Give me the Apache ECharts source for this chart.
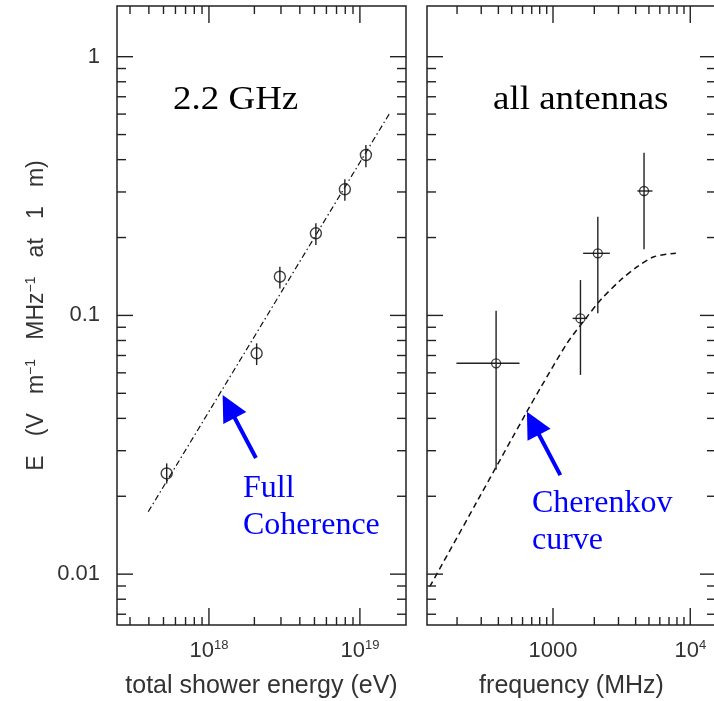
<!DOCTYPE html>
<html><head><meta charset="utf-8">
<script src="https://cdn.jsdelivr.net/npm/echarts@6/dist/echarts.min.js"></script>
<style>html,body{margin:0;padding:0;background:#fff}#c{width:714px;height:701px}</style>
</head><body><div id="c"></div>
<script>
// ---- Left panel: 2.2 GHz, field vs total shower energy ----
const energyEV   = [5.25e17, 2.07e18, 2.95e18, 5.11e18, 7.95e18, 1.096e19];
const fieldE     = [0.0245, 0.0714, 0.1411, 0.2077, 0.3073, 0.4169];
const fieldELow  = [0.0224, 0.0643, 0.1272, 0.1871, 0.2776, 0.3737];
const fieldEHigh = [0.0268, 0.0780, 0.1543, 0.2270, 0.3358, 0.4556];
const fitEnergy  = [3.96e17, 1.597e19];
const fitE       = [0.01742, 0.613];

// ---- Right panel: all antennas, field vs frequency ----
const freqMHz  = [385, 1585, 2121, 4605];
const freqLow  = [198, 1391, 1658, 4121];
const freqHigh = [570, 1774, 2596, 5305];
const antE     = [0.0653, 0.0974, 0.1738, 0.3026];
const antELow  = [0.0253, 0.0589, 0.1019, 0.1800];
const antEHigh = [0.1043, 0.1370, 0.2407, 0.4255];
const cherFreq = [126.4, 277.8, 645, 807, 1266, 1774, 2220, 3109, 4120, 5449, 7860];
const cherE    = [0.00894, 0.01897, 0.04244, 0.05226, 0.07801, 0.0989, 0.1147, 0.1370, 0.1543, 0.1686, 0.1738];

// ---- Annotation arrows (data coordinates: tail -> head) ----
const arrowLeftFrom  = [2.048e18, 0.02811];
const arrowLeftTo    = [1.352e18, 0.04446];
const arrowRightFrom = [1131, 0.02415];
const arrowRightTo   = [715, 0.03832];

// ---- Axis ranges and ticks ----
const energyRange = [2.46e17, 2.02e19];
const freqRange   = [120.8, 15400];
const fieldRange  = [0.00636, 1.57];
const energyMajor = [1e18, 1e19];
const energyMinor = [3e17,4e17,5e17,6e17,7e17,8e17,9e17,2e18,3e18,4e18,5e18,6e18,7e18,8e18,9e18];
const freqMajor   = [1000, 10000];
const freqMinor   = [200,300,400,500,600,700,800,900,2000,3000,4000,5000,6000,7000,8000,9000];
const fieldMajor  = [0.01, 0.1, 1];
const fieldMinor  = [0.007,0.008,0.009,0.02,0.03,0.04,0.05,0.06,0.07,0.08,0.09,0.2,0.3,0.4,0.5,0.6,0.7,0.8,0.9];

const INK = '#222';
const LABEL_FONT = 'Liberation Sans';

function tickItems(xMaj, xMin, yMaj, yMin, xRef, yRef) {
  return [].concat(
    xMaj.map(v => [v, yRef, 0]), xMin.map(v => [v, yRef, 1]),
    yMaj.map(v => [xRef, v, 2]), yMin.map(v => [xRef, v, 3]));
}
function renderTick(params, api) {
  const cs = params.coordSys;
  const kind = api.value(2);
  const p = api.coord([api.value(0), api.value(1)]);
  const style = {stroke: INK, lineWidth: 1.4};
  if (kind < 2) {
    const len = kind === 0 ? 17 : 8;
    const top = cs.y, bot = cs.y + cs.height;
    return {type: 'group', children: [
      {type: 'line', shape: {x1: p[0], y1: bot, x2: p[0], y2: bot - len}, style},
      {type: 'line', shape: {x1: p[0], y1: top, x2: p[0], y2: top + len}, style}]};
  }
  const len = kind === 2 ? 16 : 9;
  const l = cs.x, r = cs.x + cs.width;
  return {type: 'group', children: [
    {type: 'line', shape: {x1: l, y1: p[1], x2: l + len, y2: p[1]}, style},
    {type: 'line', shape: {x1: r, y1: p[1], x2: r - len, y2: p[1]}, style}]};
}
function renderErr(params, api) {
  const x = api.value(0), y = api.value(1);
  const a = api.coord([x, api.value(4)]), b = api.coord([x, api.value(5)]);
  const style = {stroke: INK, lineWidth: 1.4};
  const ch = [{type: 'line', shape: {x1: a[0], y1: a[1], x2: b[0], y2: b[1]}, style}];
  if (api.value(2) !== api.value(3)) {
    const c = api.coord([api.value(2), y]), d = api.coord([api.value(3), y]);
    ch.push({type: 'line', shape: {x1: c[0], y1: c[1], x2: d[0], y2: d[1]}, style});
  }
  return {type: 'group', children: ch};
}
function nearDecade(v) {
  const e = Math.log10(v);
  return Math.abs(e - Math.round(e)) < 0.01 ? Math.round(e) : null;
}
const richLbl = {
  b: {fontFamily: LABEL_FONT, fontSize: 22, color: '#333', lineHeight: 24},
  s: {fontFamily: LABEL_FONT, fontSize: 13, color: '#333', lineHeight: 13, verticalAlign: 'top'}
};
const zip = (a, b) => a.map((v, i) => [v, b[i]]);

const chart = echarts.init(document.getElementById('c'), null, {renderer: 'canvas'});
chart.setOption({
  animation: false,
  backgroundColor: '#fff',
  grid: [
    {left: 117, top: 6, width: 289, height: 619, show: true, borderColor: INK, borderWidth: 1.5, backgroundColor: 'transparent', outerBoundsMode: 'none', containLabel: false},
    {left: 427, top: 6, width: 289, height: 619, show: true, borderColor: INK, borderWidth: 1.5, backgroundColor: 'transparent', outerBoundsMode: 'none', containLabel: false}
  ],
  xAxis: [
    {type: 'log', logBase: 10, gridIndex: 0, min: energyRange[0], max: energyRange[1],
     axisLine: {show: false}, axisTick: {show: false}, splitLine: {show: false},
     axisLabel: {margin: 14, showMinLabel: false, showMaxLabel: false, rich: richLbl,
       formatter: v => { const e = nearDecade(v); return e === null ? '' : '{b|10}{s|' + e + '}'; }},
     name: 'total shower energy (eV)', nameLocation: 'middle', nameGap: 49,
     nameTextStyle: {fontFamily: LABEL_FONT, fontSize: 25, color: '#333'}},
    {type: 'log', logBase: 10, gridIndex: 1, min: freqRange[0], max: freqRange[1],
     axisLine: {show: false}, axisTick: {show: false}, splitLine: {show: false},
     axisLabel: {margin: 14, showMinLabel: false, showMaxLabel: false, rich: richLbl,
       formatter: v => { const e = nearDecade(v); if (e === null) return ''; return e === 3 ? '{b|1000}' : '{b|10}{s|' + e + '}'; }},
     name: 'frequency (MHz)', nameLocation: 'middle', nameGap: 49,
     nameTextStyle: {fontFamily: LABEL_FONT, fontSize: 25, color: '#333'}}
  ],
  yAxis: [
    {type: 'log', logBase: 10, gridIndex: 0, min: fieldRange[0], max: fieldRange[1],
     axisLine: {show: false}, axisTick: {show: false}, splitLine: {show: false},
     axisLabel: {margin: 17, showMinLabel: false, showMaxLabel: false, fontFamily: LABEL_FONT, fontSize: 22, color: '#333',
       formatter: v => { const e = nearDecade(v); return e === null ? '' : (e === 0 ? '1' : e === -1 ? '0.1' : '0.01'); }},
     name: '{t|E   (V   m}{s|−1}{t|   MHz}{s|−1}{t|   at   1   m)}', nameLocation: 'middle', nameGap: 67, nameRotate: 90,
     nameTextStyle: {rich: {
       t: {fontFamily: LABEL_FONT, fontSize: 23, color: '#333', lineHeight: 26},
       s: {fontFamily: LABEL_FONT, fontSize: 14, color: '#333', lineHeight: 14, verticalAlign: 'top'}}}},
    {type: 'log', logBase: 10, gridIndex: 1, min: fieldRange[0], max: fieldRange[1],
     axisLine: {show: false}, axisTick: {show: false}, splitLine: {show: false}, axisLabel: {show: false}}
  ],
  graphic: [
    {type: 'text', x: 173, y: 100, scaleX: 1.12, style: {x: 0, y: 0, text: '2.2 GHz', font: '33px "Liberation Serif"', fill: '#000', verticalAlign: 'middle', align: 'left'}},
    {type: 'text', x: 493, y: 100, scaleX: 1.12, style: {x: 0, y: 0, text: 'all antennas', font: '33px "Liberation Serif"', fill: '#000', verticalAlign: 'middle', align: 'left'}},
    {type: 'text', x: 243, y: 489, style: {x: 0, y: 0, text: 'Full', font: '32px "Liberation Serif"', fill: '#0000ff', verticalAlign: 'middle', align: 'left'}},
    {type: 'text', x: 243, y: 526, style: {x: 0, y: 0, text: 'Coherence', font: '32px "Liberation Serif"', fill: '#0000ff', verticalAlign: 'middle', align: 'left'}},
    {type: 'text', x: 532, y: 504, style: {x: 0, y: 0, text: 'Cherenkov', font: '32px "Liberation Serif"', fill: '#0000ff', verticalAlign: 'middle', align: 'left'}},
    {type: 'text', x: 532, y: 541, style: {x: 0, y: 0, text: 'curve', font: '32px "Liberation Serif"', fill: '#0000ff', verticalAlign: 'middle', align: 'left'}}
  ],
  series: [
    {type: 'line', xAxisIndex: 0, yAxisIndex: 0, data: zip(fitEnergy, fitE), symbol: 'none',
     lineStyle: {color: '#111', width: 1.2, type: [6, 3, 1.5, 3]}, z: 3,
     markLine: {silent: true, symbol: ['none', 'triangle'], symbolSize: 26, label: {show: false},
       lineStyle: {color: '#0000ff', width: 4, type: 'solid'},
       data: [[{coord: arrowLeftFrom}, {coord: arrowLeftTo}]]}},
    {type: 'custom', xAxisIndex: 0, yAxisIndex: 0, renderItem: renderErr, z: 4,
     data: energyEV.map((x, i) => [x, fieldE[i], x, x, fieldELow[i], fieldEHigh[i]])},
    {type: 'scatter', xAxisIndex: 0, yAxisIndex: 0, data: zip(energyEV, fieldE), symbol: 'circle', symbolSize: 11,
     itemStyle: {color: 'transparent', borderColor: '#111', borderWidth: 1.4}, z: 5},
    {type: 'custom', xAxisIndex: 0, yAxisIndex: 0, renderItem: renderTick, z: 6,
     data: tickItems(energyMajor, energyMinor, fieldMajor, fieldMinor, 1e18, 0.1)},

    {type: 'line', xAxisIndex: 1, yAxisIndex: 1, data: zip(cherFreq, cherE), symbol: 'none', smooth: 0.3,
     lineStyle: {color: '#111', width: 1.5, type: [6, 4]}, z: 3,
     markLine: {silent: true, symbol: ['none', 'triangle'], symbolSize: 26, label: {show: false},
       lineStyle: {color: '#0000ff', width: 4, type: 'solid'},
       data: [[{coord: arrowRightFrom}, {coord: arrowRightTo}]]}},
    {type: 'custom', xAxisIndex: 1, yAxisIndex: 1, renderItem: renderErr, z: 4,
     data: freqMHz.map((x, i) => [x, antE[i], freqLow[i], freqHigh[i], antELow[i], antEHigh[i]])},
    {type: 'scatter', xAxisIndex: 1, yAxisIndex: 1, data: zip(freqMHz, antE), symbol: 'circle', symbolSize: 9,
     itemStyle: {color: 'transparent', borderColor: '#111', borderWidth: 1.3}, z: 5},
    {type: 'custom', xAxisIndex: 1, yAxisIndex: 1, renderItem: renderTick, z: 6,
     data: tickItems(freqMajor, freqMinor, fieldMajor, fieldMinor, 1000, 0.1)}
  ]
});
</script></body></html>
